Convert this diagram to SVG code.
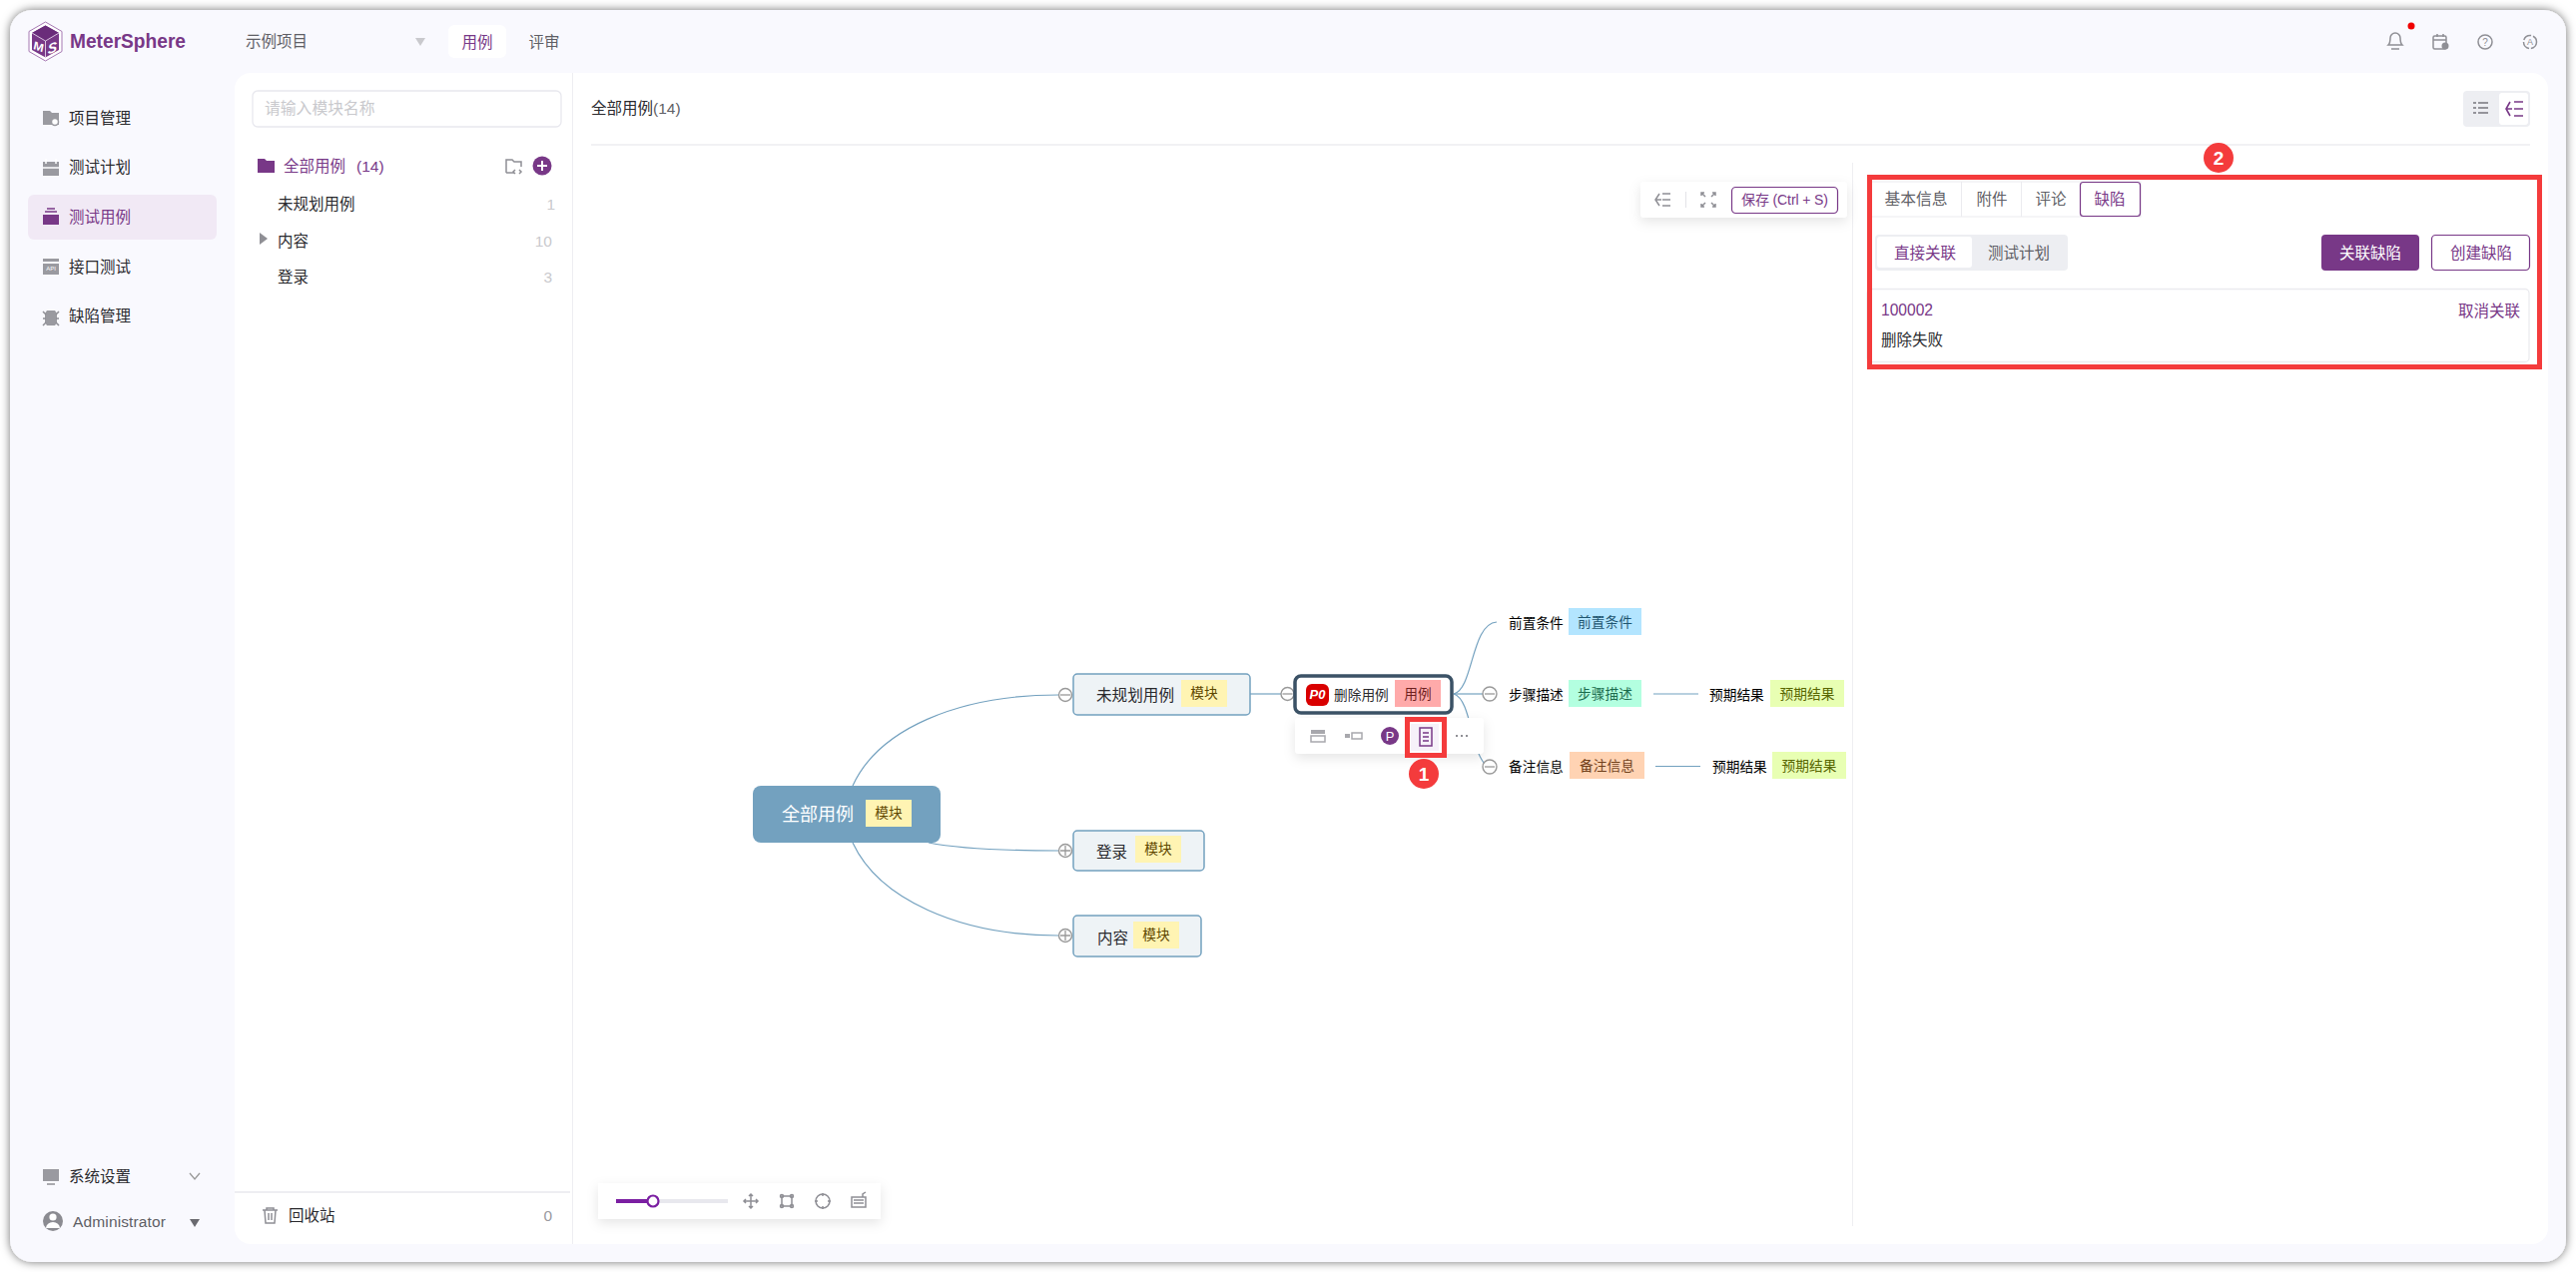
<svg xmlns="http://www.w3.org/2000/svg" width="2580" height="1274" viewBox="0 0 2580 1274">
<style>
text{font-family:"Liberation Sans","Noto Sans CJK SC",sans-serif;font-size:15.5px;dominant-baseline:central;fill:#2a2a2e}
.m{text-anchor:middle}.e{text-anchor:end}
.p{fill:#783887}.g{fill:#5f5f66}.c{fill:#c9c9cd}
.s14{font-size:13.7px}.tag{font-size:13.7px;text-anchor:middle}
.conn{fill:none;stroke:#73a1bf;stroke-width:1.2}
.node{fill:#eef3f6;stroke:#73a1bf;stroke-width:1.5}
.exp{fill:#fff;stroke:#999;stroke-width:1.4}
.ln{stroke:#999;stroke-width:1.3;fill:none}
.ic{fill:none;stroke:#8f8f95;stroke-width:1.5}
.if{fill:#9a9aa0}
.red{fill:none;stroke:#f43b3c;stroke-width:5}
.badge{fill:#f43b3c}
.bt{fill:#fff;font-size:19px;font-weight:bold;text-anchor:middle}
.ty{fill:#fff4b3}.yt{fill:#5e4800}
.ye{fill:#e8ffb3}.yet{fill:#586600}
</style>
<defs>
<filter id="win" x="-2%" y="-3%" width="104%" height="106%"><feDropShadow dx="0" dy="0" stdDeviation="5" flood-color="#000" flood-opacity=".55"/></filter>
<filter id="pop" x="-20%" y="-40%" width="140%" height="200%"><feDropShadow dx="0" dy="4" stdDeviation="6" flood-color="#000" flood-opacity=".1"/></filter>
</defs>
<rect width="2580" height="1274" fill="#fff"/>
<rect id="window" x="10" y="10" width="2560" height="1254" rx="22" fill="#f9f9fe" filter="url(#win)"/>
<rect id="panel" x="235" y="73" width="2317" height="1173" rx="16" fill="#fff"/>

<g id="logo">
<polygon points="45.500,22 62,31.500 62,51.500 45.500,61 29,51.500 29,31.500" fill="#fff" stroke="#a678b3" stroke-width="1"/>
<polygon points="45.500,25.500 59,33 59,50 45.500,57.500 32,50 32,33" fill="#783887"/>
<polygon points="45.500,25.500 59,33 45.500,41 32,33" fill="#6a2c7a"/>
<path d="M32 33l13.500 8 13.500-8M45.500 41v16.500" stroke="#f3e9f6" stroke-width=".8" fill="none"/>
<text x="38.500" y="47" class="m" transform="skewY(20) translate(0 -14)" style="font-size:12px;font-weight:bold;font-style:italic;fill:#fff">M</text>
<text x="52.500" y="48" class="m" transform="skewY(-20) translate(0 19)" style="font-size:14px;font-weight:bold;font-style:italic;fill:#fff">S</text>
<text x="70" y="41" textLength="116" lengthAdjust="spacingAndGlyphs" style="font-size:20px;font-weight:bold;fill:#783887">MeterSphere</text>
</g>
<g id="topbar">
<text x="246" y="41" class="g">示例项目</text>
<polygon points="416,38 426,38 421,46" fill="#c9c9cd"/>
<rect x="449" y="25" width="58" height="33" rx="6" fill="#fff"/>
<text x="478" y="42" class="m p">用例</text>
<text x="545" y="42" class="m g">评审</text>
<path class="ic" d="M2392 45c2-2 2-4 2-7a5 5 0 0 1 10 0c0 3 0 5 2 7zM2395 49h8"/>
<circle cx="2415" cy="26" r="3.5" fill="#f00000"/>
<rect class="ic" x="2437" y="36" width="13" height="13" rx="1.5"/><path class="ic" d="M2437 40h13M2441 34v3M2447 34v3"/><circle cx="2449" cy="46" r="3.5" fill="#8f8f95"/>
<circle class="ic" cx="2489" cy="42" r="7"/><text x="2489" y="42" class="m" style="font-size:10px;fill:#8f8f95">?</text>
<circle class="ic" cx="2534" cy="42" r="6.5" stroke-dasharray="9 2"/><text x="2534" y="42" class="m" style="font-size:9px;fill:#8f8f95">A</text>
</g>
<g id="sidebar">
<rect x="28" y="195" width="189" height="45" rx="6" fill="#f1e9f5"/>
<path class="if" d="M43 111h7l2 2h7v12H43z"/><circle cx="55" cy="122" r="3.5" fill="#fff" stroke="#9a9aa0" stroke-width="1.5"/>
<text x="69" y="118">项目管理</text>
<path class="if" d="M43 162h16v14H43z"/><path d="M46 159v5M56 159v5M43 168h16" stroke="#fff" stroke-width="1.5"/>
<text x="69" y="167">测试计划</text>
<path class="p" d="M43 215h16v10H43z" /><path d="M45 212h12M47 209h8" stroke="#783887" stroke-width="1.6"/>
<text x="69" y="217" class="p">测试用例</text>
<path class="if" d="M43 259h16v3H43zM43 264h16v11H43z"/><text x="51" y="269" class="m" style="font-size:6px;fill:#fff">API</text>
<text x="69" y="267">接口测试</text>
<path class="if" d="M47 311h8l2 3v9l-2 3h-8l-2-3v-9z"/><path class="ic" d="M43 312l3 3M59 312l-3 3M43 319h3M59 319h-3M43 326l3-3M59 326l-3-3"/>
<text x="69" y="316">缺陷管理</text>
<rect class="if" x="43" y="1171" width="16" height="12"/><path class="ic" d="M47 1186h8"/>
<text x="69" y="1178">系统设置</text>
<path class="ln" d="M190 1175l5 6 5-6"/>
<circle cx="53" cy="1223" r="10" fill="#8b8b91"/><circle cx="53" cy="1219" r="3.6" fill="#fff"/><path d="M46 1230a7 6 0 0 1 14 0z" fill="#fff"/>
<text x="73" y="1223" textLength="93" class="g">Administrator</text>
<polygon points="190,1221 200,1221 195,1229" fill="#6a6a70"/>
</g>
<g id="module-tree">
<rect x="253" y="91" width="309" height="36" rx="5" fill="#fff" stroke="#e8e8ee" stroke-width="1.3"/>
<text x="265" y="108" class="c" style="font-size:15.8px">请输入模块名称</text>
<path class="p" d="M258 159h7l2 2h8v12h-17z"/>
<text x="284" y="166" class="p">全部用例</text><text x="357" y="166" class="p">(14)</text>
<path class="ic" stroke="#666" d="M507 173v-13h6l2 2h7v5M507 173h8" /><path class="ic" d="M516 170l-2 2 2 2M520 170l2 2-2 2"/>
<circle cx="543" cy="166" r="9.5" fill="#783887"/><path d="M538 166h10M543 161v10" stroke="#fff" stroke-width="2"/>
<text x="278" y="204">未规划用例</text><text x="556" y="204" class="e c">1</text>
<polygon points="260,233 268,239 260,245" fill="#8f8f95"/>
<text x="278" y="241">内容</text><text x="553" y="241" class="e c">10</text>
<text x="278" y="277">登录</text><text x="553" y="277" class="e c">3</text>
<path d="M235 1194H571" stroke="#e8e8ee" stroke-width="1.3"/>
<path class="ic" d="M263 1212h15M267 1212v-2h7v2M265 1212l1 13h9l1-13M269 1215v7M272 1215v7"/>
<text x="289" y="1217">回收站</text><text x="553" y="1217" class="e c" style="fill:#9a9aa0">0</text>
</g>
<g id="main-frame">
<path d="M573.500 73V1246" stroke="#eeeef2" stroke-width="1"/>
<text x="592" y="108">全部用例<tspan class="g">(14)</tspan></text>
<path d="M592 145H2534" stroke="#ececf0" stroke-width="1.3"/>
<path d="M1855.500 163V1228" stroke="#eeeef2" stroke-width="1"/>
<rect x="2467" y="91" width="67" height="36" rx="4" fill="#edeef2"/>
<rect x="2503" y="93" width="29" height="32" rx="3" fill="#fff"/>
<path d="M2477 103h3M2482 103h10M2477 108h3M2482 108h10M2477 113h3M2482 113h10" stroke="#77777d" stroke-width="1.5"/>
<path d="M2514 102l-4 7 4 7M2518 102h9M2518 109h9M2518 116h9M2510 109h6" stroke="#783887" stroke-width="1.6" fill="none"/>
</g>
<g id="map-toolbar">
<rect x="1643" y="182" width="207" height="36" rx="4" fill="#fff" filter="url(#pop)"/>
<path class="ic" d="M1662 194l-4 6 4 6M1665 194h8M1665 200h8M1665 206h8M1658 200h6"/>
<path d="M1688.500 192v16" stroke="#e3e3e8"/>
<path class="ic" d="M1704 196v-3h3M1718 196v-3h-3M1704 204v3h3M1718 204v3h-3M1704 193l4 4M1718 193l-4 4M1704 207l4-4M1718 207l-4-4"/>
<rect x="1734.500" y="187.500" width="106" height="26" rx="4" fill="#fff" stroke="#783887" stroke-width="1.2"/>
<text x="1787.500" y="200" class="m p" textLength="87" style="font-size:14px">保存 (Ctrl + S)</text>
</g>
<g id="zoom-toolbar">
<rect x="599" y="1185" width="283" height="36" fill="#fff" filter="url(#pop)"/>
<rect x="617" y="1201" width="112" height="4" fill="#e8e8ee"/>
<rect x="617" y="1201" width="37" height="4" fill="#7b1fa2"/>
<circle cx="654" cy="1203" r="5.500" fill="#fff" stroke="#7b1fa2" stroke-width="2.2"/>
<path class="ic" d="M752 1196v14M745 1203h14M750 1198l2-2 2 2M750 1208l2 2 2-2M747 1201l-2 2 2 2M757 1201l2 2-2 2"/>
<rect class="ic" x="783" y="1198" width="10" height="10"/><circle class="ic" cx="783" cy="1198" r="1.500"/><circle class="ic" cx="793" cy="1198" r="1.500"/><circle class="ic" cx="783" cy="1208" r="1.500"/><circle class="ic" cx="793" cy="1208" r="1.500"/>
<circle class="ic" cx="824" cy="1203" r="7"/><path class="ic" d="M824 1195v3M824 1208v3M816 1203h3M829 1203h3"/>
<rect class="ic" x="853" y="1199" width="14" height="10"/><path class="ic" d="M855 1202h10M855 1205h10M864 1199v-3l3-2"/>
</g>

<g id="connectors">
<path class="conn" d="M854 787C880 730 960 696 1060 696"/>
<path class="conn" d="M930 844C960 850 1000 852 1060 852"/>
<path class="conn" d="M854 844C880 900 960 937 1060 937"/>
<path class="conn" d="M1252 695H1283"/>
<path class="conn" d="M1456 695C1476 690 1473 625 1499 623"/>
<path class="conn" d="M1456 695H1486"/>
<path class="conn" d="M1456 695C1473 700 1473 750 1487 765"/>
<path class="conn" d="M1656 695H1701"/>
<path class="conn" d="M1658 767.500H1703"/>
</g>

<g id="node-root">
<rect x="754" y="787" width="188" height="57" rx="8" fill="#73a1bf"/>
<text x="819" y="816" class="m" style="font-size:18px;fill:#fff">全部用例</text>
<rect class="ty" x="867" y="801" width="46" height="27"/><text x="890" y="814.500" class="tag yt">模块</text>
</g>
<g id="node-unplanned">
<rect class="node" x="1075" y="675" width="177" height="41" rx="4"/>
<text x="1098" y="696" style="font-size:15.600px">未规划用例</text>
<rect class="ty" x="1183" y="681" width="46" height="27"/><text x="1206" y="694.500" class="tag yt">模块</text>
<circle class="exp" cx="1067" cy="696" r="6.500"/><path class="ln" d="M1062 696h10"/>
<circle class="exp" cx="1289.500" cy="695" r="6.500"/><path class="ln" d="M1284.500 695h10"/>
</g>
<g id="node-login">
<rect class="node" x="1075" y="832" width="131" height="40" rx="4"/>
<text x="1098" y="853">登录</text>
<rect class="ty" x="1137" y="837" width="46" height="27"/><text x="1160" y="850.500" class="tag yt">模块</text>
<circle class="exp" cx="1067" cy="852" r="6.500"/><path class="ln" d="M1062 852h10M1067 847v10"/>
</g>
<g id="node-content">
<rect class="node" x="1075" y="917" width="128" height="41" rx="4"/>
<text x="1099" y="939">内容</text>
<rect class="ty" x="1135" y="923" width="46" height="27"/><text x="1158" y="936.500" class="tag yt">模块</text>
<circle class="exp" cx="1067" cy="937" r="6.500"/><path class="ln" d="M1062 937h10M1067 932v10"/>
</g>
<g id="node-delete-case">
<rect x="1297" y="677" width="157" height="37" rx="6" fill="#fff" stroke="#3b5266" stroke-width="3.500"/>
<rect x="1308" y="685" width="23" height="22" rx="6" fill="#d90000"/>
<text x="1319.500" y="695.500" class="m" style="font-size:13px;font-weight:bold;font-style:italic;fill:#fff">P0</text>
<text x="1336" y="696" class="s14">删除用例</text>
<rect x="1397" y="681" width="46" height="27" fill="#ffaaaa"/><text x="1420" y="695" class="tag" style="fill:#6e2020">用例</text>
</g>
<g id="node-precondition">
<text x="1511" y="624" class="s14" style="fill:#000">前置条件</text>
<rect x="1571" y="609" width="73" height="27" fill="#b3e5ff"/><text x="1607.500" y="623" class="tag" style="fill:#1e5570">前置条件</text>
</g>
<g id="node-steps">
<circle class="exp" cx="1492" cy="695" r="7"/><path class="ln" d="M1487 695h10"/>
<text x="1511" y="696" class="s14" style="fill:#000">步骤描述</text>
<rect x="1571" y="681" width="73" height="27" fill="#b3ffe0"/><text x="1607.500" y="695" class="tag" style="fill:#1a6b4c">步骤描述</text>
</g>
<g id="node-steps-result">
<text x="1712" y="696" class="s14" style="fill:#000">预期结果</text>
<rect class="ye" x="1773" y="681" width="74" height="27"/><text x="1810" y="695" class="tag yet">预期结果</text>
</g>
<g id="node-remark">
<circle class="exp" cx="1492" cy="768" r="7"/><path class="ln" d="M1487 768h10"/>
<text x="1511" y="768" class="s14" style="fill:#000">备注信息</text>
<rect x="1572" y="753" width="75" height="27" fill="#ffd3b3"/><text x="1609.500" y="767" class="tag" style="fill:#70401a">备注信息</text>
</g>
<g id="node-remark-result">
<text x="1715" y="768" class="s14" style="fill:#000">预期结果</text>
<rect class="ye" x="1775" y="753" width="74" height="27"/><text x="1812" y="767" class="tag yet">预期结果</text>
</g>
<g id="node-popup">
<rect x="1297" y="719" width="189" height="36" rx="4" fill="#fff" filter="url(#pop)"/>
<rect x="1313" y="731" width="14" height="4" fill="#a8a8ad"/><rect x="1313" y="737" width="14" height="6" fill="#fff" stroke="#a8a8ad" stroke-width="1.500"/>
<rect x="1347" y="735" width="5" height="4" fill="#a8a8ad"/><rect x="1354" y="734" width="10" height="6" fill="#fff" stroke="#a8a8ad" stroke-width="1.500"/>
<circle cx="1392" cy="737" r="9" fill="#783887"/><text x="1392" y="737" class="m" style="font-size:13px;fill:#fff">P</text>
<rect x="1413" y="725" width="28" height="27" fill="#f6f1f9"/>
<rect x="1422" y="729" width="12" height="18" fill="none" stroke="#783887" stroke-width="1.500"/><path d="M1425 734h6M1425 738h6M1425 742h6" stroke="#783887" stroke-width="1.400"/>
<path d="M1458 737h2M1463 737h2M1468 737h2" stroke="#8f8f95" stroke-width="2"/>
</g>
<g id="detail-panel">
<rect x="1873" y="182" width="271" height="35" fill="#fff" stroke="#ebebef"/>
<path d="M1964.500 182v35M2024.500 182v35" stroke="#ebebef"/>
<rect x="2083.500" y="182.500" width="60" height="34" rx="3" fill="#fff" stroke="#783887" stroke-width="1.200"/>
<text x="1919" y="199" class="m g" style="font-size:15.800px">基本信息</text>
<text x="1995" y="199" class="m g">附件</text>
<text x="2054" y="199" class="m g">评论</text>
<text x="2113" y="199" class="m p">缺陷</text>
<rect x="1878" y="235" width="193" height="36" rx="4" fill="#edeef2"/>
<rect x="1880" y="237" width="95" height="31" rx="3" fill="#fff"/>
<text x="1928" y="253" class="m p">直接关联</text>
<text x="2022" y="253" class="m g">测试计划</text>
<rect x="2325" y="235" width="98" height="36" rx="4" fill="#783887"/>
<text x="2374" y="253" class="m" style="fill:#fff">关联缺陷</text>
<rect x="2435.500" y="235.500" width="98" height="35" rx="4" fill="#fff" stroke="#783887" stroke-width="1.200"/>
<text x="2485" y="253" class="m p">创建缺陷</text>
<rect x="1870" y="289.500" width="663" height="73" rx="4" fill="#fff" stroke="#ebebef" stroke-width="1.300"/>
<text x="1884" y="310" class="p" style="font-size:15.600px">100002</text>
<text x="2524" y="311" class="e p">取消关联</text>
<text x="1884" y="340">删除失败</text>
</g>
<g id="callout-1">
<rect class="red" x="1409.500" y="720.500" width="37" height="36"/>
<circle class="badge" cx="1426" cy="775" r="15"/><text x="1426" y="775" class="bt">1</text>
</g>
<g id="callout-2">
<rect class="red" x="1872.500" y="177.500" width="671" height="190"/>
<circle class="badge" cx="2222" cy="158" r="15"/><text x="2222" y="158" class="bt">2</text>
</g>
</svg>
